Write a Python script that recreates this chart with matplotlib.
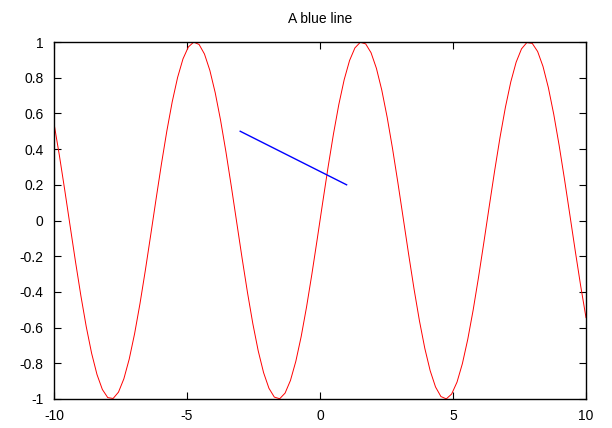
import matplotlib
matplotlib.use("Agg")
import matplotlib.pyplot as plt
import numpy as np

plt.rcParams["font.family"] = ["Liberation Sans", "DejaVu Sans"]

# red curve: sin(x) sampled as gnuplot does (100 samples over the x range)
curve_x = np.linspace(-10, 10, 100)
curve_y = np.sin(curve_x)

# blue segment endpoints
seg_x = [-3, 1]
seg_y = [0.5, 0.2]

x_ticks = [-10, -5, 0, 5, 10]
y_ticks = [-1, -0.8, -0.6, -0.4, -0.2, 0, 0.2, 0.4, 0.6, 0.8, 1]
y_labels = ["-1", "-0.8", "-0.6", "-0.4", "-0.2", "0", "0.2", "0.4", "0.6", "0.8", "1"]

fig = plt.figure(figsize=(6.12, 4.28), dpi=100)
ax = fig.add_axes([54 / 612, 1 - 399 / 428, 532 / 612, 357 / 428])

ax.plot(curve_x, curve_y, color="#ff0000", lw=0.7)
ax.plot(seg_x, seg_y, color="#0000ff", lw=1.0)

ax.set_xlim(-10, 10)
ax.set_ylim(-1, 1)
ax.set_xticks(x_ticks)
ax.set_xticklabels([str(t) for t in x_ticks])
ax.set_yticks(y_ticks)
ax.set_yticklabels(y_labels)
ax.tick_params(axis="x", pad=7)
ax.tick_params(axis="y", pad=7.5)
ax.tick_params(direction="in", length=5, width=0.8, top=True, right=True,
               labelsize=10, colors="black")
for s in ax.spines.values():
    s.set_linewidth(1.0)

ax.set_title("A blue line", fontsize=10, pad=14)

fig.savefig("out.png", dpi=100)
